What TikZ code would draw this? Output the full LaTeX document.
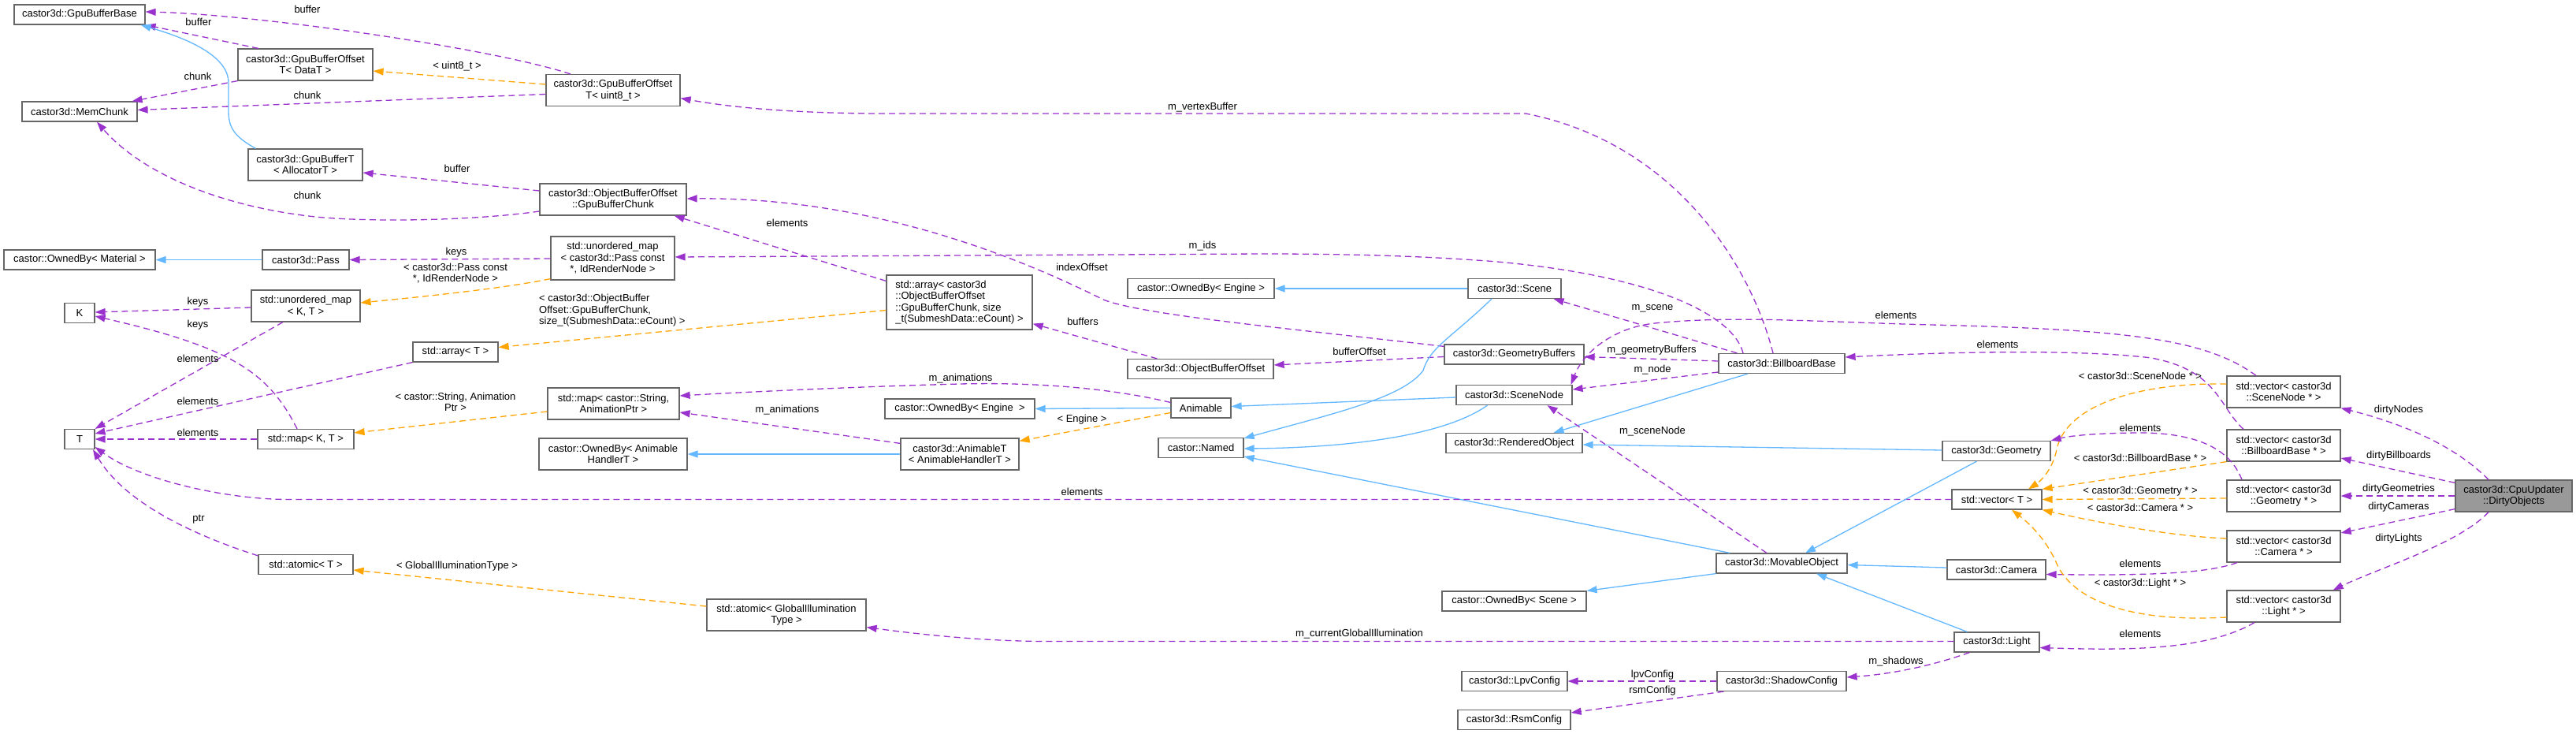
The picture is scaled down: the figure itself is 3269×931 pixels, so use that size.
\documentclass[tikz,border=0pt]{standalone}
\usepackage{fontspec}
\setmainfont{Liberation Sans}
\usetikzlibrary{arrows.meta}
\definecolor{usecol}{HTML}{9A32CD}
\definecolor{inhcol}{HTML}{63B8FF}
\definecolor{tplcol}{HTML}{FFA500}
\definecolor{boxgray}{HTML}{666666}
\definecolor{selfill}{HTML}{999999}
\newcommand{\dgfont}{\fontsize{13}{14.5}\selectfont}
\tikzset{
  box/.style={draw=boxgray, line width=1.2pt, fill=white, inner sep=0pt, align=center, font=\dgfont},
  lbl/.style={inner sep=0pt, align=center, font=\dgfont},
  use/.style={draw=usecol, line width=1.3pt, dash pattern=on 8pt off 5pt, -{Triangle[length=13pt,width=9pt]}},
  inh/.style={draw=inhcol, line width=1.3pt, -{Triangle[length=13pt,width=9pt]}},
  tpl/.style={draw=tplcol, line width=1.3pt, dash pattern=on 8pt off 5pt, -{Triangle[length=13pt,width=9pt]}},
}
\begin{document}
\begin{tikzpicture}[x=1pt,y=-1pt]
\fill[white] (0,0) rectangle (3269,931);
\useasboundingbox (0,0) rectangle (3269,931);
% nodes
\node[box,minimum width=166pt,minimum height=25pt] (gbb) at (101,18.5) {castor3d::GpuBufferBase};
\node[box,minimum width=171pt,minimum height=40pt] (dataT) at (387.5,82) {castor3d::GpuBufferOffset\\T< DataT >};
\node[box,minimum width=146pt,minimum height=25pt] (mem) at (101,141.5) {castor3d::MemChunk};
\node[box,minimum width=145pt,minimum height=40pt] (allocT) at (387.5,209) {castor3d::GpuBufferT\\< AllocatorT >};
\node[box,minimum width=170pt,minimum height=40pt] (u8) at (778,114.5) {castor3d::GpuBufferOffset\\T< uint8\_t >};
\node[box,minimum width=186pt,minimum height=40pt] (chunk) at (778,253) {castor3d::ObjectBufferOffset\\::GpuBufferChunk};
\node[box,minimum width=157pt,minimum height=55pt] (um3) at (777.5,327.5) {std::unordered\_map\\< castor3d::Pass const\\ *, IdRenderNode >};
\node[box,minimum width=192pt,minimum height=25pt] (obMat) at (101,329.5) {castor::OwnedBy< Material >};
\node[box,minimum width=110pt,minimum height=25pt] (pass) at (388,329.5) {castor3d::Pass};
\node[box,minimum width=38pt,minimum height=25pt] (K) at (101,397) {K};
\node[box,minimum width=138pt,minimum height=40pt] (umKT) at (388,388) {std::unordered\_map\\< K, T >};
\node[box,minimum width=108pt,minimum height=25pt] (arrT) at (578,446.5) {std::array< T >};
\node[box,minimum width=38pt,minimum height=25pt] (T) at (101,557) {T};
\node[box,minimum width=122pt,minimum height=25pt] (mapKT) at (388,557) {std::map< K, T >};
\node[box,minimum width=167pt,minimum height=40pt] (mapStr) at (778.5,512) {std::map< castor::String,\\ AnimationPtr >};
\node[box,minimum width=188pt,minimum height=40pt] (obAnim) at (778,576) {castor::OwnedBy< Animable\\HandlerT >};
\node[box,minimum width=120pt,minimum height=25pt] (atomT) at (388,716) {std::atomic< T >};
\node[box,minimum width=185pt,minimum height=69pt,align=left] (arrBig) at (1217.5,383.5) {std::array< castor3d\\::ObjectBufferOffset\\::GpuBufferChunk, size\\\_t(SubmeshData::eCount) >};
\node[box,minimum width=186pt,minimum height=25pt] (obEng1) at (1524,366) {castor::OwnedBy< Engine >};
\node[box,minimum width=185pt,minimum height=25pt] (obo) at (1523.5,468) {castor3d::ObjectBufferOffset};
\node[box,minimum width=190pt,minimum height=25pt] (obEng2) at (1218,518.5) {castor::OwnedBy< Engine\ \ >};
\node[box,minimum width=76pt,minimum height=25pt] (animable) at (1524,517.5) {Animable};
\node[box,minimum width=150pt,minimum height=40pt] (animT) at (1218,576) {castor3d::AnimableT\\< AnimableHandlerT >};
\node[box,minimum width=108pt,minimum height=25pt] (named) at (1524,568) {castor::Named};
\node[box,minimum width=202pt,minimum height=40pt] (atomGI) at (998,780) {std::atomic< GlobalIllumination\\Type >};
\node[box,minimum width=118pt,minimum height=25pt] (scene) at (1922,366) {castor3d::Scene};
\node[box,minimum width=177pt,minimum height=25pt] (gbufs) at (1921.5,449.5) {castor3d::GeometryBuffers};
\node[box,minimum width=147pt,minimum height=25pt] (snode) at (1921.5,501) {castor3d::SceneNode};
\node[box,minimum width=173pt,minimum height=25pt] (robj) at (1921.5,562) {castor3d::RenderedObject};
\node[box,minimum width=160pt,minimum height=25pt] (bb) at (2261,461) {castor3d::BillboardBase};
\node[box,minimum width=166pt,minimum height=25pt] (movable) at (2261,714.5) {castor3d::MovableObject};
\node[box,minimum width=183pt,minimum height=25pt] (obScene) at (1921.5,762.5) {castor::OwnedBy< Scene >};
\node[box,minimum width=134pt,minimum height=25pt] (lpv) at (1922,864) {castor3d::LpvConfig};
\node[box,minimum width=164pt,minimum height=25pt] (shadow) at (2261,864) {castor3d::ShadowConfig};
\node[box,minimum width=143pt,minimum height=25pt] (rsm) at (1921.5,913) {castor3d::RsmConfig};
\node[box,minimum width=144pt,minimum height=40pt] (vSN) at (2898,497) {std::vector< castor3d\\::SceneNode * >};
\node[box,minimum width=144pt,minimum height=40pt] (vBB) at (2898,565) {std::vector< castor3d\\::BillboardBase * >};
\node[box,minimum width=137pt,minimum height=25pt] (geom) at (2533.5,572) {castor3d::Geometry};
\node[box,minimum width=114pt,minimum height=25pt] (vT) at (2534,633.5) {std::vector< T >};
\node[box,minimum width=144pt,minimum height=40pt] (vGeom) at (2898,629) {std::vector< castor3d\\::Geometry * >};
\node[box,minimum width=148pt,minimum height=40pt,fill=selfill] (DO) at (3190,629) {castor3d::CpuUpdater\\::DirtyObjects};
\node[box,minimum width=144pt,minimum height=40pt] (vCam) at (2898,693) {std::vector< castor3d\\::Camera * >};
\node[box,minimum width=125pt,minimum height=25pt] (cam) at (2533.5,722.5) {castor3d::Camera};
\node[box,minimum width=144pt,minimum height=40pt] (vLight) at (2898,769) {std::vector< castor3d\\::Light * >};
\node[box,minimum width=108pt,minimum height=25pt] (light) at (2534,814.5) {castor3d::Light};
% edges
\draw[use] ([shift={(-54,0)}]u8.north) .. controls (620,60) and (320,18) .. ([shift={(0,-3.5)}]gbb.east);
\draw[use] ([shift={(-59.5,0)}]dataT.north) -- (gbb.south east);
\draw[inh] ([shift={(-63,0)}]allocT.north) .. controls (295,172) and (290,160) .. (290,140) -- (290,105) .. controls (290,70) and (235,48) .. ([shift={(-6,0)}]gbb.south east);
\draw[tpl] ([shift={(0,-7.5)}]u8.west) -- ([shift={(0,8)}]dataT.east);
\draw[use] (dataT.south west) -- ([shift={(-7,0)}]mem.north east);
\draw[use] ([shift={(0,5)}]u8.west) -- ([shift={(0,-2)}]mem.east);
\draw[use] ([shift={(0,-11)}]chunk.west) -- ([shift={(0,10)}]allocT.east);
\draw[use] ([shift={(0,15)}]chunk.west) .. controls (600,280) and (470,282) .. (400,275) .. controls (280,262) and (180,220) .. ([shift={(22,0)}]mem.south);
\draw[use] ([shift={(0,8)}]arrBig.north west) -- ([shift={(-16,0)}]chunk.south east);
\draw[use] ([shift={(0,3)}]gbufs.north west) .. controls (1650,418) and (1450,400) .. (1400,380) .. controls (1260,310) and (1080,250) .. ([shift={(0,-1)}]chunk.east);
\draw[use] ([shift={(0,3)}]gbufs.west) -- ([shift={(0,-5)}]obo.east);
\draw[use] ([shift={(38,0)}]obo.north west) -- ([shift={(0,-8)}]arrBig.south east);
\draw[tpl] ([shift={(0,10)}]arrBig.west) -- ([shift={(0,-6)}]arrT.east);
\draw[use] (arrT.south west) -- ([shift={(0,-7)}]T.east);
\draw[use] ([shift={(0,0.5)}]um3.west) -- (pass.east);
\draw[inh] (pass.west) -- (obMat.east);
\draw[tpl] ([shift={(0,-2)}]um3.south west) .. controls (640,366) and (520,378) .. ([shift={(0,-4)}]umKT.east);
\draw[use] ([shift={(-49,0)}]bb.north) .. controls (2200,400) and (2100,350) .. (1900,332) .. controls (1800,324) and (1700,322) .. (1600,322) -- ([shift={(0,-1.5)}]um3.east);
\draw[use] ([shift={(-11,0)}]bb.north) .. controls (2220,330) and (2120,180) .. (1936,144) -- (1124,144) .. controls (1000,144) and (920,135) .. ([shift={(0,10)}]u8.east);
\draw[use] ([shift={(0,2)}]umKT.west) -- ([shift={(0,-1)}]K.east);
\draw[use] ([shift={(-29,0)}]umKT.south) -- (T.north east);
\draw[use] ([shift={(-11,0)}]mapKT.north) .. controls (340,470) and (290,440) .. ([shift={(0,4)}]K.east);
\draw[use] (mapKT.west) -- (T.east);
\draw[tpl] ([shift={(0,10)}]mapStr.west) -- ([shift={(0,-8)}]mapKT.east);
\draw[use] ([shift={(0,-7)}]animable.west) .. controls (1400,490) and (1300,485) .. (1218,487) .. controls (1100,490) and (950,497) .. ([shift={(0,-10)}]mapStr.east);
\draw[use] ([shift={(0,7)}]animT.north west) -- ([shift={(0,11)}]mapStr.east);
\draw[inh] (animT.west) -- (obAnim.east);
\draw[inh] (animable.west) -- (obEng2.east);
\draw[tpl] ([shift={(0,6)}]animable.west) -- ([shift={(0,4)}]animT.north east);
\draw[inh] ([shift={(0,3)}]snode.west) -- ([shift={(0,-2)}]animable.east);
\draw[inh] ([shift={(-34,0)}]snode.south) .. controls (1830,555) and (1700,568) .. ([shift={(0,1)}]named.east);
\draw[inh] (scene.west) -- (obEng1.east);
\draw[inh] ([shift={(-29,0)}]scene.south) .. controls (1840,430) and (1815,440) .. (1806,470) .. controls (1780,505) and (1690,525) .. ([shift={(0,-12)}]named.east);
\draw[inh] ([shift={(18,0)}]movable.north west) -- ([shift={(0,11)}]named.east);
\draw[inh] ([shift={(0,-1)}]geom.west) -- ([shift={(0,2)}]robj.east);
\draw[inh] ([shift={(-43,0)}]bb.south) -- ([shift={(50,0)}]robj.north);
\draw[use] ([shift={(24,0)}]bb.north west) -- ([shift={(-10,0)}]scene.south east);
\draw[use] ([shift={(0,-3)}]bb.west) -- ([shift={(0,3)}]gbufs.east);
\draw[use] ([shift={(0,11)}]bb.west) -- ([shift={(0,-7)}]snode.east);
\draw[use] ([shift={(-19,0)}]movable.north) -- ([shift={(-32,0)}]snode.south east);
\draw[tpl] ([shift={(0,-10)}]vSN.west) .. controls (2700,485) and (2620,520) .. (2610,570) .. controls (2605,595) and (2590,610) .. ([shift={(40,0)}]vT.north);
\draw[use] ([shift={(-35,0)}]vSN.north) .. controls (2800,430) and (2700,418) .. (2450,412) .. controls (2300,408) and (2200,400) .. (2100,410) .. controls (2050,415) and (2010,445) .. ([shift={(-2,0)}]snode.north east);
\draw[use] ([shift={(-51,0)}]vBB.north) .. controls (2815,515) and (2815,470) .. (2730,454) .. controls (2650,444) and (2500,445) .. ([shift={(0,-8)}]bb.east);
\draw[tpl] (vBB.south west) -- (vT.north east);
\draw[tpl] ([shift={(0,3)}]vGeom.west) -- (vT.east);
\draw[use] ([shift={(-53,0)}]vGeom.north) .. controls (2830,570) and (2790,550) .. (2720,549) .. controls (2670,549) and (2630,552) .. (geom.north east);
\draw[tpl] ([shift={(0,-10)}]vCam.west) .. controls (2750,680) and (2650,660) .. (vT.south east);
\draw[use] ([shift={(-59,0)}]vCam.south) .. controls (2800,728) and (2720,730) .. ([shift={(0,6)}]cam.east);
\draw[tpl] ([shift={(0,14)}]vLight.west) .. controls (2700,790) and (2630,760) .. (2610,715) .. controls (2595,680) and (2570,660) .. ([shift={(19,0)}]vT.south);
\draw[use] ([shift={(-37,0)}]vLight.south) .. controls (2800,825) and (2700,825) .. ([shift={(0,7)}]light.east);
\draw[use] ([shift={(-32,0)}]DO.north) .. controls (3120,570) and (3060,540) .. (vSN.south east);
\draw[use] ([shift={(0,4)}]DO.north west) -- ([shift={(0,16)}]vBB.east);
\draw[use] (DO.west) -- (vGeom.east);
\draw[use] ([shift={(0,-4)}]DO.south west) -- ([shift={(0,-17)}]vCam.east);
\draw[use] ([shift={(-32,0)}]DO.south) .. controls (3120,690) and (3020,720) .. ([shift={(-10,0)}]vLight.north east);
\draw[use] (vT.west) -- (366,633.5) .. controls (290,633.5) and (180,610) .. ([shift={(0,10)}]T.east);
\draw[use] ([shift={(0,2)}]atomT.north west) .. controls (250,680) and (160,640) .. ([shift={(17,0)}]T.south);
\draw[tpl] ([shift={(0,-11)}]atomGI.west) -- ([shift={(0,7)}]atomT.east);
\draw[use] ([shift={(0,-1)}]light.west) -- (1330,813.5) .. controls (1250,813.5) and (1170,805) .. ([shift={(0,-5)}]atomGI.south east);
\draw[inh] ([shift={(17,0)}]light.north west) -- ([shift={(44,0)}]movable.south);
\draw[inh] ([shift={(0,-2.5)}]cam.west) -- ([shift={(0,2)}]movable.east);
\draw[inh] ([shift={(-25,0)}]geom.south) -- ([shift={(30,0)}]movable.north);
\draw[inh] (movable.south west) -- (obScene.north east);
\draw[use] ([shift={(20,0)}]light.south west) .. controls (2450,845) and (2400,855) .. ([shift={(0,-5)}]shadow.east);
\draw[use] (shadow.west) -- (lpv.east);
\draw[use] ([shift={(9,0)}]shadow.south west) -- ([shift={(0,-9)}]rsm.east);
% labels
\node[lbl] (lb1) at (390,12) {buffer};
\node[lbl] (lb2) at (252,28) {buffer};
\node[lbl] (lb3) at (580,84) {< uint8\_t >};
\node[lbl] (lb4) at (251,97) {chunk};
\node[lbl] (lb5) at (390,121) {chunk};
\node[lbl] (lb6) at (580,214) {buffer};
\node[lbl] (lb7) at (390,248) {chunk};
\node[lbl] (lb8) at (999,283) {elements};
\node[lbl] (lb9) at (1526,136) {m\_vertexBuffer};
\node[lbl] (lb10) at (1526,312) {m\_ids};
\node[lbl] (lb11) at (579,320) {keys};
\node[lbl] (lb12) at (578,346.5) {< castor3d::Pass const\\*, IdRenderNode >};
\node[lbl] (lb13) at (1373,339) {indexOffset};
\node[lbl] (lb14) at (251,383) {keys};
\node[lbl,align=left,anchor=west] (lb15) at (684,394) {< castor3d::ObjectBuffer\\Offset::GpuBufferChunk,\\ size\_t(SubmeshData::eCount) >};
\node[lbl] (lb16) at (1374,408) {buffers};
\node[lbl] (lb17) at (251,412) {keys};
\node[lbl] (lb18) at (251,455) {elements};
\node[lbl] (lb19) at (1219,480) {m\_animations};
\node[lbl] (lb20) at (578,510) {< castor::String, Animation\\Ptr >};
\node[lbl] (lb21) at (251,509) {elements};
\node[lbl] (lb22) at (999,520) {m\_animations};
\node[lbl] (lb23) at (1373,532) {< Engine >};
\node[lbl] (lb24) at (251,549) {elements};
\node[lbl] (lb25) at (1373,624) {elements};
\node[lbl] (lb26) at (252,659) {ptr};
\node[lbl] (lb27) at (580,718) {< GlobalIlluminationType >};
\node[lbl] (lb28) at (1725,804) {m\_currentGlobalIllumination};
\node[lbl] (lb29) at (1725,446) {bufferOffset};
\node[lbl] (lb30) at (2097,391) {m\_scene};
\node[lbl] (lb31) at (2096,444) {m\_geometryBuffers};
\node[lbl] (lb32) at (2097,469) {m\_node};
\node[lbl] (lb33) at (2097,547) {m\_sceneNode};
\node[lbl] (lb34) at (2406,400) {elements};
\node[lbl] (lb35) at (2535,437) {elements};
\node[lbl] (lb36) at (2716,477) {< castor3d::SceneNode * >};
\node[lbl] (lb37) at (2716,543) {elements};
\node[lbl] (lb38) at (2716,581) {< castor3d::BillboardBase * >};
\node[lbl] (lb39) at (3044,520) {dirtyNodes};
\node[lbl] (lb40) at (3044,578) {dirtyBillboards};
\node[lbl] (lb41) at (3044,620) {dirtyGeometries};
\node[lbl] (lb42) at (2716,623) {< castor3d::Geometry * >};
\node[lbl] (lb43) at (3044,643) {dirtyCameras};
\node[lbl] (lb44) at (2716,644) {< castor3d::Camera * >};
\node[lbl] (lb45) at (2716,715) {elements};
\node[lbl] (lb46) at (2716,740) {< castor3d::Light * >};
\node[lbl] (lb47) at (3044,683) {dirtyLights};
\node[lbl] (lb48) at (2716,804) {elements};
\node[lbl] (lb49) at (2097,856) {lpvConfig};
\node[lbl] (lb50) at (2097,876) {rsmConfig};
\node[lbl] (lb51) at (2406,839) {m\_shadows};
\end{tikzpicture}
\end{document}
